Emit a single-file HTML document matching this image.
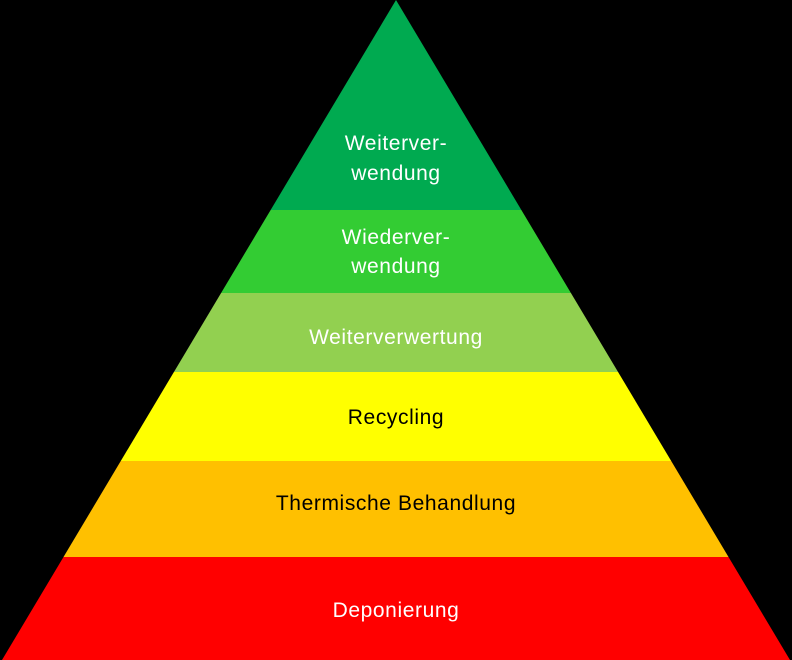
<!DOCTYPE html>
<html><head><meta charset="utf-8"><style>html,body{margin:0;padding:0;background:#000}svg{display:block}text{font-family:"Liberation Sans",sans-serif;font-size:21px;letter-spacing:0.6px;text-anchor:middle}</style></head>
<body>
<svg width="792" height="660" viewBox="0 0 792 660">
<defs><clipPath id="c"><polygon points="396,0 790,660 2,660"/></clipPath></defs>
<g clip-path="url(#c)">
<rect x="0" y="0" width="792" height="210" fill="#00aa50"/>
<rect x="0" y="210" width="792" height="83" fill="#33cc33"/>
<rect x="0" y="293" width="792" height="79" fill="#92d050"/>
<rect x="0" y="372" width="792" height="89" fill="#ffff00"/>
<rect x="0" y="461" width="792" height="96" fill="#ffc000"/>
<rect x="0" y="557" width="792" height="103" fill="#ff0000"/>
</g>
<g fill="#ffffff">
<text x="396" y="150">Weiterver-</text>
<text x="396" y="180">wendung</text>
<text x="396" y="244">Wiederver-</text>
<text x="396" y="273">wendung</text>
<text x="396" y="344">Weiterverwertung</text>
<text x="396" y="617">Deponierung</text>
</g>
<g fill="#000000">
<text x="396" y="424">Recycling</text>
<text x="396" y="510">Thermische Behandlung</text>
</g>
</svg>
</body></html>
